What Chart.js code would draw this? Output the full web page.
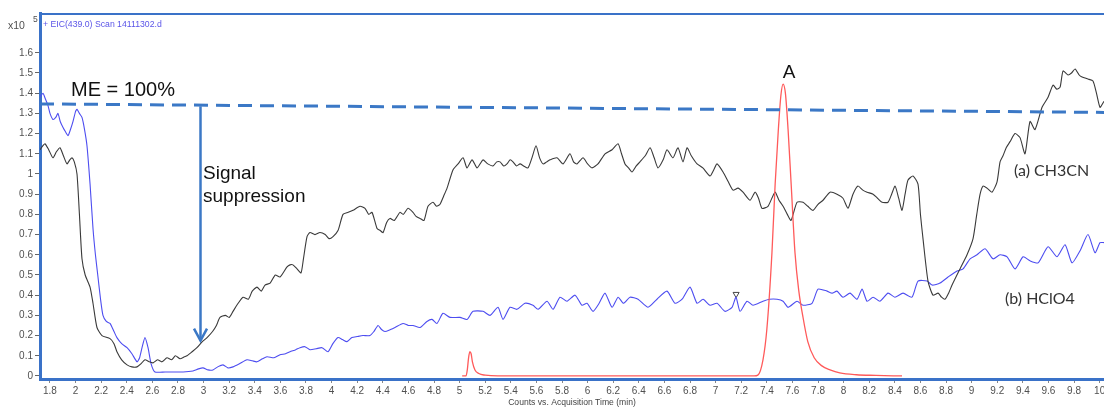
<!DOCTYPE html>
<html>
<head>
<meta charset="utf-8">
<script src="https://cdn.jsdelivr.net/npm/chart.js@4.4.1/dist/chart.umd.min.js"></script>
<style>
html, body { margin: 0; padding: 0; background: #fff; }
canvas { display: block; }
</style>
</head>
<body>
<canvas id="eic" width="1104" height="408"></canvas>
<script>
// (a) CH3CN trace, x10^5 counts
var blackTime = [1.722,1.745,1.761,1.79,1.823,1.85,1.878,1.905,1.933,1.955,1.972,1.99,2.011,2.03,2.05,2.075,2.113,2.136,2.167,2.206,2.269,2.3,2.323,2.36,2.402,2.44,2.48,2.51,2.542,2.575,2.605,2.64,2.675,2.714,2.75,2.78,2.816,2.85,2.87,2.91,2.948,2.99,3.027,3.07,3.1,3.128,3.17,3.2,3.23,3.27,3.308,3.35,3.38,3.417,3.45,3.48,3.52,3.56,3.597,3.652,3.675,3.698,3.73,3.761,3.78,3.808,3.831,3.87,3.909,3.95,3.98,4.011,4.05,4.089,4.13,4.167,4.222,4.261,4.29,4.316,4.355,4.38,4.402,4.43,4.456,4.49,4.534,4.56,4.597,4.636,4.66,4.691,4.722,4.753,4.792,4.82,4.847,4.875,4.902,4.948,4.988,5.027,5.058,5.097,5.136,5.16,5.183,5.22,5.261,5.29,5.316,5.345,5.37,5.395,5.417,5.445,5.472,5.5,5.534,5.565,5.597,5.625,5.652,5.68,5.706,5.761,5.808,5.862,5.89,5.917,5.964,6.0,6.034,6.081,6.136,6.191,6.238,6.265,6.292,6.32,6.347,6.38,6.409,6.45,6.488,6.52,6.55,6.59,6.62,6.667,6.706,6.745,6.777,6.81,6.855,6.9,6.956,6.985,7.011,7.058,7.1,7.136,7.175,7.214,7.269,7.308,7.335,7.362,7.409,7.464,7.495,7.527,7.56,7.589,7.636,7.683,7.72,7.761,7.8,7.839,7.894,7.948,7.995,8.034,8.073,8.112,8.15,8.183,8.23,8.265,8.3,8.347,8.375,8.402,8.43,8.456,8.48,8.503,8.542,8.581,8.6,8.62,8.659,8.698,8.738,8.765,8.792,8.82,8.847,8.909,8.964,9.011,9.04,9.066,9.089,9.12,9.159,9.198,9.222,9.245,9.27,9.3,9.339,9.378,9.417,9.456,9.495,9.55,9.597,9.636,9.665,9.691,9.714,9.753,9.78,9.808,9.84,9.863,9.909,9.948,9.975,10.003,10.034];
var blackSignal = [1.12,1.14,1.15,1.12,1.08,1.11,1.13,1.09,1.05,1.07,1.08,1.06,1.0,0.80,0.58,0.50,0.44,0.36,0.24,0.20,0.185,0.16,0.12,0.08,0.055,0.045,0.045,0.06,0.08,0.07,0.065,0.08,0.07,0.09,0.08,0.10,0.085,0.095,0.10,0.12,0.14,0.17,0.19,0.22,0.25,0.29,0.30,0.29,0.32,0.36,0.39,0.38,0.42,0.44,0.42,0.45,0.46,0.50,0.49,0.54,0.55,0.55,0.53,0.51,0.58,0.69,0.71,0.70,0.71,0.70,0.68,0.69,0.72,0.80,0.81,0.82,0.84,0.83,0.80,0.81,0.73,0.72,0.71,0.76,0.78,0.77,0.81,0.80,0.83,0.81,0.79,0.78,0.77,0.84,0.86,0.84,0.85,0.89,0.93,1.02,1.05,1.08,1.03,1.07,1.03,1.05,1.07,1.05,1.04,1.06,1.06,1.04,1.05,1.07,1.06,1.04,1.05,1.04,1.03,1.08,1.14,1.08,1.05,1.06,1.07,1.08,1.05,1.10,1.06,1.05,1.08,1.05,1.03,1.05,1.10,1.12,1.15,1.10,1.05,1.03,1.01,1.04,1.06,1.09,1.13,1.08,1.03,1.07,1.12,1.08,1.13,1.06,1.13,1.09,1.05,1.03,0.99,1.02,1.05,1.01,0.96,0.92,0.93,0.91,0.87,0.91,0.88,0.83,0.84,0.91,0.87,0.84,0.80,0.77,0.86,0.86,0.84,0.82,0.85,0.87,0.91,0.90,0.88,0.83,0.90,0.94,0.92,0.91,0.90,0.88,0.86,0.86,0.90,0.94,0.88,0.82,0.90,0.97,0.99,0.95,0.80,0.68,0.47,0.40,0.41,0.39,0.38,0.41,0.45,0.53,0.60,0.68,0.80,0.90,0.94,0.93,0.91,0.96,1.06,1.09,1.13,1.16,1.20,1.18,1.10,1.26,1.22,1.33,1.38,1.44,1.42,1.43,1.51,1.49,1.50,1.52,1.49,1.48,1.47,1.46,1.40,1.33,1.36];

// (b) HClO4 trace
var blueTime = [1.722,1.745,1.765,1.784,1.8,1.823,1.845,1.862,1.88,1.902,1.92,1.941,1.96,1.98,2.0,2.011,2.03,2.05,2.07,2.089,2.113,2.136,2.155,2.175,2.195,2.214,2.24,2.269,2.3,2.323,2.36,2.402,2.44,2.48,2.5,2.519,2.542,2.566,2.59,2.62,2.7,2.761,2.84,2.917,2.96,2.995,3.035,3.073,3.11,3.152,3.19,3.23,3.28,3.339,3.38,3.417,3.46,3.495,3.55,3.597,3.64,3.675,3.72,3.753,3.792,3.831,3.88,3.925,3.972,4.01,4.05,4.085,4.12,4.159,4.2,4.245,4.3,4.33,4.363,4.39,4.417,4.46,4.495,4.558,4.6,4.636,4.691,4.745,4.784,4.823,4.87,4.925,5.003,5.058,5.105,5.183,5.238,5.3,5.339,5.394,5.448,5.511,5.573,5.613,5.683,5.73,5.784,5.839,5.902,5.956,5.995,6.042,6.09,6.136,6.191,6.238,6.28,6.331,6.394,6.472,6.542,6.62,6.683,6.738,6.8,6.855,6.902,6.956,7.011,7.073,7.128,7.159,7.191,7.245,7.292,7.37,7.42,7.48,7.527,7.566,7.636,7.683,7.753,7.8,7.87,7.91,7.948,7.995,8.05,8.105,8.144,8.183,8.23,8.284,8.347,8.4,8.464,8.534,8.581,8.652,8.691,8.753,8.816,8.886,8.933,8.988,9.042,9.105,9.167,9.222,9.277,9.339,9.402,9.456,9.519,9.597,9.667,9.73,9.784,9.847,9.909,9.964,10.003,10.034];
var blueSignal = [1.38,1.40,1.37,1.34,1.30,1.27,1.28,1.30,1.26,1.23,1.21,1.19,1.22,1.26,1.31,1.32,1.30,1.28,1.22,1.14,0.95,0.73,0.60,0.49,0.38,0.30,0.27,0.26,0.22,0.19,0.16,0.14,0.11,0.07,0.09,0.14,0.19,0.14,0.06,0.02,0.02,0.02,0.02,0.025,0.035,0.04,0.03,0.03,0.045,0.055,0.04,0.045,0.06,0.08,0.075,0.07,0.085,0.095,0.09,0.105,0.11,0.12,0.13,0.14,0.145,0.13,0.135,0.14,0.12,0.16,0.19,0.18,0.17,0.19,0.195,0.20,0.20,0.22,0.25,0.23,0.22,0.23,0.24,0.26,0.25,0.25,0.24,0.27,0.28,0.26,0.31,0.29,0.29,0.28,0.32,0.32,0.30,0.34,0.28,0.34,0.33,0.36,0.35,0.33,0.37,0.33,0.39,0.37,0.40,0.35,0.36,0.32,0.36,0.41,0.34,0.39,0.36,0.39,0.38,0.34,0.38,0.42,0.36,0.38,0.44,0.36,0.38,0.35,0.36,0.32,0.34,0.39,0.32,0.37,0.35,0.37,0.38,0.38,0.37,0.34,0.37,0.35,0.36,0.43,0.42,0.41,0.42,0.39,0.41,0.38,0.43,0.37,0.39,0.37,0.41,0.39,0.41,0.39,0.47,0.47,0.45,0.46,0.49,0.52,0.53,0.58,0.60,0.63,0.58,0.60,0.59,0.53,0.59,0.57,0.56,0.64,0.59,0.65,0.56,0.62,0.70,0.61,0.66,0.66];

// analyte peaks (red)
var redTime = [5.02,5.05,5.06,5.07,5.08,5.09,5.1,5.12,5.15,5.2,5.3,7.3,7.33,7.37,7.4,7.44,7.465,7.49,7.51,7.527,7.545,7.566,7.59,7.62,7.65,7.68,7.72,7.77,7.83,7.894,7.97,8.1,8.25,8.456];
var redSignal = [0,0,0.03,0.09,0.12,0.11,0.07,0.03,0.012,0.004,0,0,0.004,0.08,0.23,0.61,0.95,1.22,1.39,1.445,1.40,1.22,0.95,0.61,0.42,0.30,0.17,0.09,0.05,0.03,0.015,0.006,0.003,0];

// ME = 100% reference level
var meTime = [1.722, 10.034];
var meLevel = [1.347, 1.305];

// integration marker on (b)
var markerTime = [7.16];
var markerLevel = [0.405];

// suppression arrow
var arrowTime = 2.97;
var arrowTop = 1.335;
var arrowTip = 0.175;

var xTickLabels = [1.8,2,2.2,2.4,2.6,2.8,3,3.2,3.4,3.6,3.8,4,4.2,4.4,4.6,4.8,5,5.2,5.4,5.6,5.8,6,6.2,6.4,6.6,6.8,7,7.2,7.4,7.6,7.8,8,8.2,8.4,8.6,8.8,9,9.2,9.4,9.6,9.8,10];
var yTickLabels = [0,0.1,0.2,0.3,0.4,0.5,0.6,0.7,0.8,0.9,1,1.1,1.2,1.3,1.4,1.5,1.6];

function toPoints(ts, vs) {
	return ts.map(function (t, i) { return { x: t, y: vs[i] }; });
}

var frameBlue = "#3a72c8";

var annotations = {
	id: "annotations",
	afterDatasetsDraw: function (chart) {
		var ctx = chart.ctx;
		var a = chart.chartArea;
		var xs = chart.scales.x, ys = chart.scales.y;
		ctx.save();
		// top frame line
		ctx.strokeStyle = frameBlue;
		ctx.lineWidth = 2;
		ctx.beginPath();
		ctx.moveTo(a.left, a.top + 1);
		ctx.lineTo(a.right, a.top + 1);
		ctx.stroke();

		// arrow
		var ax = Math.round(xs.getPixelForValue(arrowTime)) + 0.5;
		var y0 = ys.getPixelForValue(arrowTop);
		var y1 = ys.getPixelForValue(arrowTip);
		ctx.strokeStyle = "#3b78c6";
		ctx.lineWidth = 2.5;
		ctx.beginPath();
		ctx.moveTo(ax, y0);
		ctx.lineTo(ax, y1);
		ctx.stroke();
		ctx.beginPath();
		ctx.moveTo(ax - 6.5, y1 - 12);
		ctx.lineTo(ax, y1);
		ctx.lineTo(ax + 6.5, y1 - 12);
		ctx.stroke();

		// labels
		ctx.fillStyle = "#111";
		ctx.textBaseline = "middle";
		ctx.textAlign = "left";
		ctx.font = "20px 'Liberation Sans', Arial, sans-serif";
		ctx.fillText("ME = 100%", 71, 90);
		ctx.font = "19px 'Liberation Sans', Arial, sans-serif";
		ctx.fillText("Signal", 203, 174);
		ctx.fillText("suppression", 203, 197);
		ctx.textAlign = "center";
		ctx.fillText("A", 789, 73);
		ctx.textAlign = "left";
		ctx.fillStyle = "#333";
		ctx.font = "16px Lato, 'Liberation Sans', sans-serif";
		ctx.fillText("(a) CH3CN", 1014, 171);
		ctx.fillText("(b) HClO4", 1005, 299);

		// trace title
		ctx.fillStyle = "#5b55e8";
		ctx.font = "8.7px 'Liberation Sans', Arial, sans-serif";
		ctx.fillText("+ EIC(439.0) Scan 14111302.d", 43, 25);
		ctx.restore();
	},
	afterDraw: function (chart) {
		var ctx = chart.ctx;
		ctx.save();
		ctx.fillStyle = "#505050";
		ctx.textBaseline = "middle";
		ctx.textAlign = "left";
		ctx.font = "10.5px 'Liberation Sans', Arial, sans-serif";
		ctx.fillText("x10", 8, 26);
		ctx.font = "8.5px 'Liberation Sans', Arial, sans-serif";
		ctx.fillText("5", 33, 20);
		ctx.restore();
	}
};

function CreateChart() {
	var config = {
		type: "line",
		data: {
			datasets: [{
				label: "ME = 100%",
				data: toPoints(meTime, meLevel),
				borderColor: "#3b78c6",
				borderWidth: 3,
				borderDash: [14, 8],
				pointRadius: 0
			}, {
				label: "A",
				data: toPoints(redTime, redSignal),
				borderColor: "#ff5a5a",
				borderWidth: 1.3,
				pointRadius: 0,
				cubicInterpolationMode: "monotone"
			}, {
				label: "(a) CH3CN",
				data: toPoints(blackTime, blackSignal),
				borderColor: "#3a3a3a",
				borderWidth: 1.1,
				pointRadius: 0,
				tension: 0.2
			}, {
				label: "(b) HClO4",
				data: toPoints(blueTime, blueSignal),
				borderColor: "#4d4df0",
				borderWidth: 1.1,
				pointRadius: 0,
				tension: 0.2
			}, {
				label: "marker",
				data: toPoints(markerTime, markerLevel),
				showLine: false,
				pointStyle: "triangle",
				rotation: 180,
				pointRadius: 3.5,
				borderWidth: 1,
				borderColor: "#444",
				backgroundColor: "#fff"
			}]
		},
		options: {
			responsive: false,
			animation: false,
			devicePixelRatio: 1,
			layout: { autoPadding: false, padding: { left: 0, top: 13, right: 0, bottom: 0 } },
			plugins: {
				legend: { display: false },
				tooltip: { enabled: false }
			},
			scales: {
				x: {
					type: "linear",
					min: 1.722,
					max: 10.034,
					afterBuildTicks: function (s) {
						s.ticks = xTickLabels.map(function (v) { return { value: v }; });
					},
					afterFit: function (s) {
						s.height = 29;
						s.paddingLeft = 0;
						s.paddingRight = 0;
					},
					grid: { drawOnChartArea: false, drawTicks: true, tickLength: 4, color: "#888" },
					border: { display: true, color: frameBlue, width: 3 },
					ticks: {
						autoSkip: false,
						maxRotation: 0,
						padding: 2,
						color: "#505050",
						font: { family: "'Liberation Sans', Arial, sans-serif", size: 10 },
						callback: function (v) { return String(Math.round(v * 10) / 10); }
					},
					title: {
						display: true,
						text: "Counts vs. Acquisition Time (min)",
						color: "#444",
						padding: { top: 0, bottom: 0 },
						font: { family: "'Liberation Sans', Arial, sans-serif", size: 8.6 }
					}
				},
				y: {
					min: -0.015,
					max: 1.797,
					afterBuildTicks: function (s) {
						s.ticks = yTickLabels.map(function (v) { return { value: v }; });
					},
					afterFit: function (s) {
						s.width = 40;
						s.paddingTop = 0;
						s.paddingBottom = 0;
					},
					grid: { drawOnChartArea: false, drawTicks: true, tickLength: 5, color: "#666" },
					border: { display: true, color: frameBlue, width: 3 },
					ticks: {
						padding: 2,
						color: "#505050",
						font: { family: "'Liberation Sans Narrow', 'Liberation Sans', Arial, sans-serif", size: 10 },
						callback: function (v) { return String(Math.round(v * 10) / 10); }
					}
				}
			}
		},
		plugins: [annotations]
	};
	var ctx = document.getElementById("eic").getContext("2d");
	window.eicChart = new Chart(ctx, config);
}

CreateChart();
</script>
</body>
</html>
